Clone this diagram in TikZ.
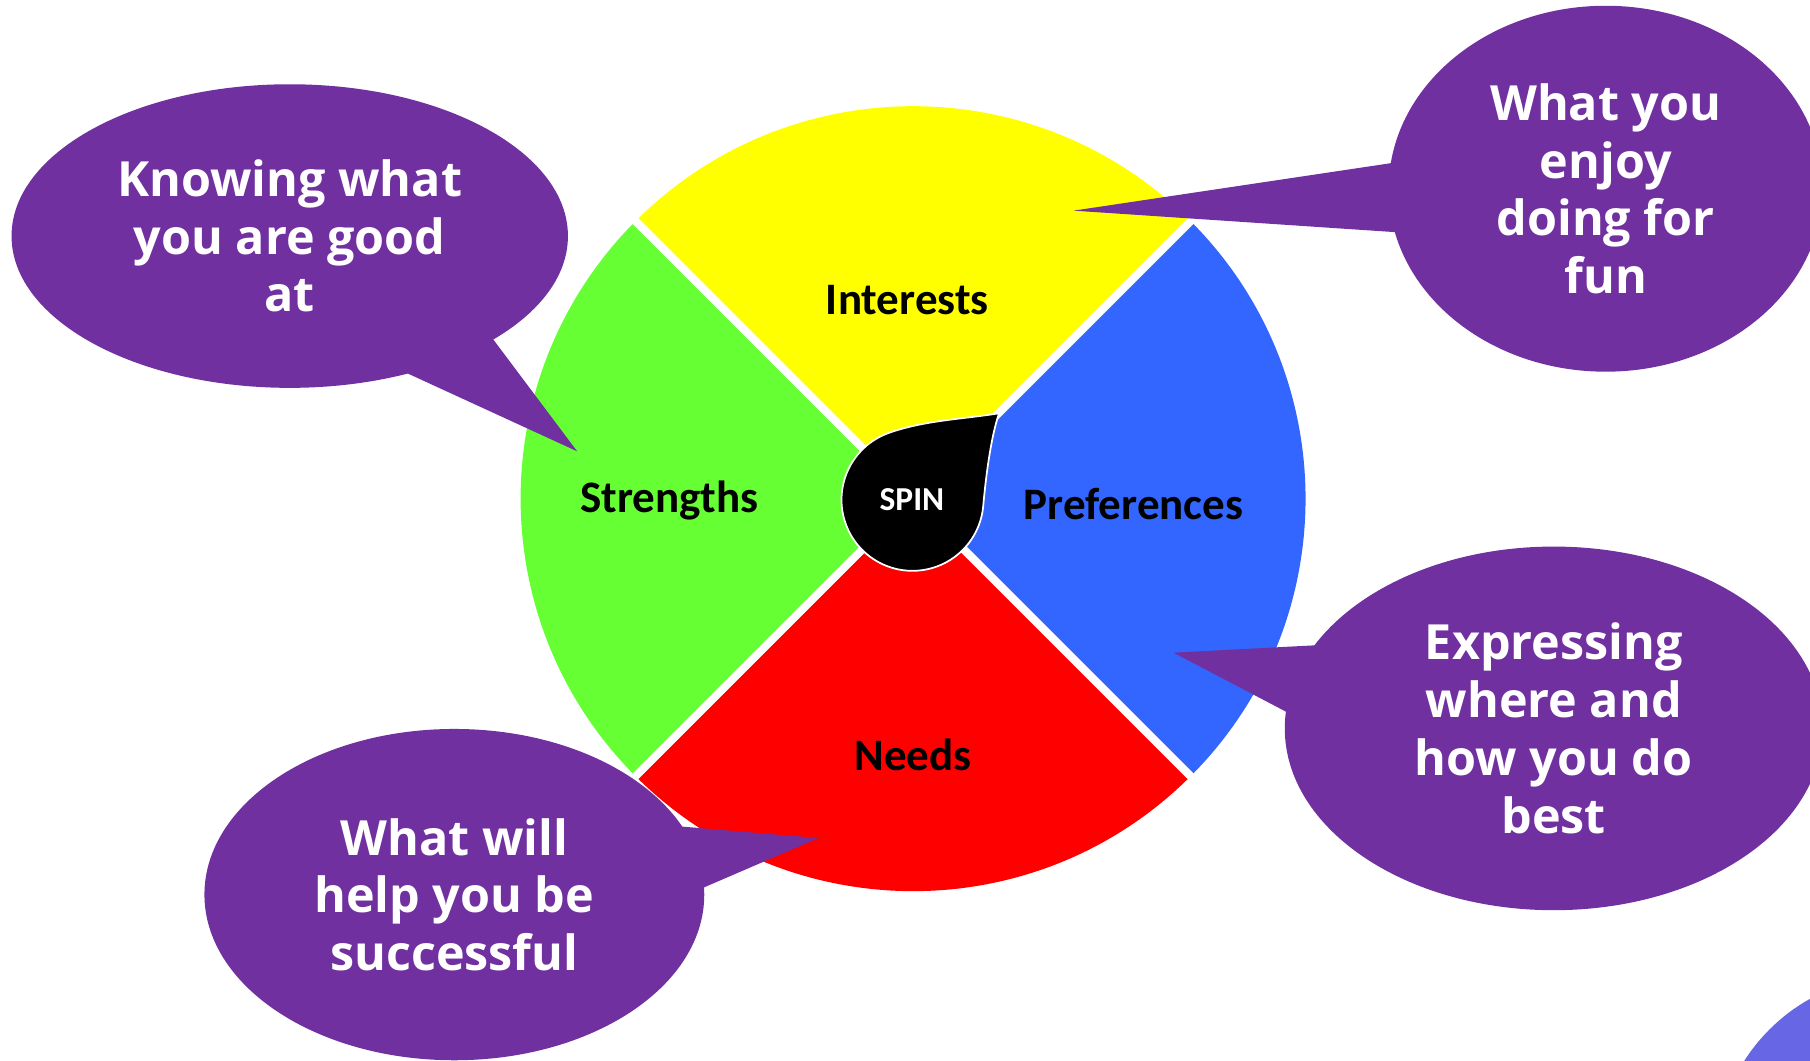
\documentclass[tikz,border=0pt]{standalone}
\usepackage{fontspec}
\newfontfamily\bubblefont{Open Sans}
\newfontfamily\labelfont{Carlito}
\usetikzlibrary{shapes.geometric,calc}
\definecolor{bubblepurple}{HTML}{7030A0}
\definecolor{segyellow}{HTML}{FFFF00}
\definecolor{seggreen}{HTML}{66FF33}
\definecolor{segblue}{HTML}{3366FF}
\definecolor{segred}{HTML}{FF0000}
\definecolor{cornerblue}{HTML}{6767E6}
\begin{document}
\begin{tikzpicture}[x=1pt,y=1pt,
  bubble/.style={ellipse, fill=bubblepurple, inner sep=0pt, text=white, align=center,
    font=\bubblefont\bfseries\fontsize{42}{50}\selectfont},
  seglabel/.style={font=\labelfont\bfseries\fontsize{39}{45}\selectfont, text=black, inner sep=0pt},
  divider/.style={white, line width=7pt},
  tailfill/.style={fill=bubblepurple}]
\useasboundingbox (0,0) rectangle (1568,919);
\clip (0,0) rectangle (1568,919);
\fill[white] (0,0) rectangle (1568,919);

% wheel
\coordinate (C) at (791,487);
\fill[segyellow] (C) -- +(45:340pt) arc[start angle=45, end angle=135, radius=340pt] -- cycle;
\fill[seggreen] (C) -- +(135:340pt) arc[start angle=135, end angle=225, radius=340pt] -- cycle;
\fill[segred] (C) -- +(225:340pt) arc[start angle=225, end angle=315, radius=340pt] -- cycle;
\fill[segblue] (C) -- +(315:340pt) arc[start angle=315, end angle=405, radius=340pt] -- cycle;
\draw[divider] ($(C)+(45:341pt)$) -- ($(C)+(225:341pt)$);
\draw[divider] ($(C)+(135:341pt)$) -- ($(C)+(315:341pt)$);

% centre teardrop
\begin{scope}[shift={(790.5,486)}]
\filldraw[fill=black, draw=white, line width=1.5pt]
  (110:61.5pt) arc[start angle=110, end angle=355, radius=61.5pt]
  .. controls (63.5,20) and (68,55) .. (75,75)
  .. controls (45,70) and (10,69) .. (110:61.5pt) -- cycle;
\end{scope}
\node[font=\labelfont\bfseries\fontsize{29}{33}\selectfont, text=white, inner sep=0pt] (spin) at (790,486) {SPIN};

\node[seglabel] (interests) at (786,659) {Interests};
\node[seglabel] (strengths) at (580,485) {Strengths};
\node[seglabel] (preferences) at (982,482) {Preferences};
\node[seglabel] (needs) at (791,265) {Needs};

% bubbles
\node[bubble, minimum width=482pt, minimum height=263pt] (b1) at (251,714.5)
  {Knowing what\\you are good\\at};
\coordinate (t1) at (500,528);
\fill[tailfill] (t1) -- ($(t1)!1.15!(428,624)$) -- ($(t1)!1.15!(352,596)$) -- cycle;

\node[bubble, minimum width=376pt, minimum height=317pt] (b2) at (1391,755.5)
  {What you\\enjoy\\doing for\\fun};
\coordinate (t2) at (930,736.5);
\fill[tailfill] (t2) -- ($(t2)!1.1!(1204,777.5)$) -- ($(t2)!1.1!(1207,718)$) -- cycle;

\node[bubble, minimum width=466pt, minimum height=315pt] (b3) at (1346,288)
  {Expressing\\where and\\how you do\\best};
\coordinate (t3) at (1016.5,353.6);
\fill[tailfill] (t3) -- ($(t3)!1.15!(1140,360)$) -- ($(t3)!1.15!(1114,302.5)$) -- cycle;

\node[bubble, minimum width=433pt, minimum height=287pt] (b4) at (393.6,144)
  {What will\\help you be\\successful};
\coordinate (t4) at (709,193);
\fill[tailfill] (t4) -- ($(t4)!1.15!(590,203)$) -- ($(t4)!1.15!(610,150.3)$) -- cycle;

% corner shape
\fill[cornerblue] (1646,-86) circle[radius=160pt];
\end{tikzpicture}
\end{document}
